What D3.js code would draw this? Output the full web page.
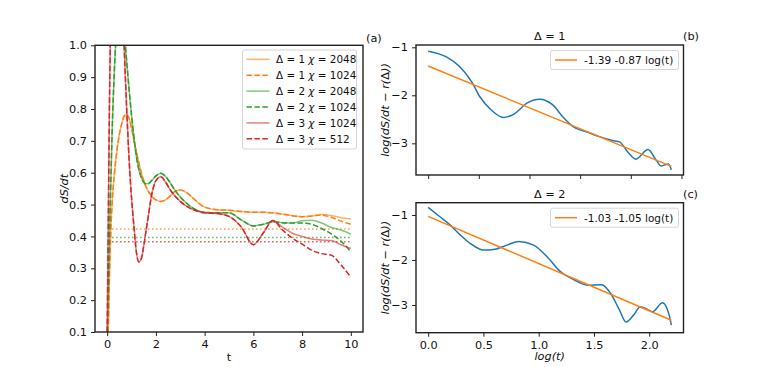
<!DOCTYPE html>
<meta charset="utf-8">
<title>dS/dt</title>
<style>
body { margin: 0; background: #fff; }
svg { font-family: "DejaVu Sans", sans-serif; }
.frame { fill: none; stroke: #222; stroke-width: 1.4px; }
.axis path { display: none; }
.axis line { stroke: #222; stroke-width: 1px; }
.axis text { font-size: 11.3px; fill: #111; font-family: "DejaVu Sans", sans-serif; }
.lab { font-size: 11.3px; fill: #111; }
.leg { font-size: 10.4px; fill: #111; }
.curve { fill: none; stroke-width: 1.5px; }
</style>
<body>
<script src="https://cdn.jsdelivr.net/npm/d3@7"></script>
<script>

var width = 760,
    height = 380;

// left panel: dS/dt vs t
var tGrid = [0, 0.05, 0.1, 0.15, 0.2, 0.3, 0.4, 0.5, 0.6, 0.7, 0.8, 0.9, 1.0, 1.1, 1.2, 1.3, 1.4, 1.5, 1.6, 1.7, 1.8, 1.9, 2.0,
             2.2, 2.4, 2.6, 2.8, 3.0, 3.25, 3.5, 3.75, 4.0, 4.5, 5.0, 5.5, 6.0, 6.4, 6.8, 7.2, 7.6, 8.0, 8.4, 8.8, 9.2, 9.6, 10.0];

var d1chi2048 = [0.0, 0.12, 0.3, 0.42, 0.5, 0.6, 0.67, 0.72, 0.755, 0.778, 0.783, 0.77, 0.74, 0.7, 0.665, 0.63, 0.6, 0.575, 0.555, 0.54, 0.53, 0.52, 0.515,
                 0.51, 0.515, 0.528, 0.542, 0.546, 0.538, 0.522, 0.505, 0.492, 0.484, 0.482, 0.478, 0.476, 0.476, 0.474, 0.47, 0.465, 0.462, 0.464, 0.469, 0.466, 0.459, 0.455];
var d1chi1024 = [0.0, 0.12, 0.3, 0.42, 0.5, 0.6, 0.67, 0.72, 0.755, 0.778, 0.783, 0.77, 0.74, 0.7, 0.665, 0.63, 0.6, 0.575, 0.555, 0.54, 0.53, 0.52, 0.515,
                 0.51, 0.515, 0.528, 0.542, 0.546, 0.538, 0.522, 0.505, 0.492, 0.484, 0.482, 0.478, 0.476, 0.476, 0.474, 0.47, 0.465, 0.462, 0.464, 0.467, 0.46, 0.448, 0.438];
var d2chi2048 = [0.05, 0.25, 0.42, 0.57, 0.72, 0.93, 1.06, 1.1, 1.1, 1.04, 0.95, 0.86, 0.78, 0.71, 0.65, 0.61, 0.585, 0.57, 0.565, 0.566, 0.573, 0.582, 0.59,
                 0.598, 0.588, 0.567, 0.543, 0.524, 0.505, 0.49, 0.48, 0.476, 0.474, 0.474, 0.452, 0.433, 0.438, 0.446, 0.443, 0.442, 0.449, 0.451, 0.442, 0.428, 0.42, 0.407];
var d2chi1024 = [0.05, 0.25, 0.42, 0.57, 0.72, 0.93, 1.06, 1.1, 1.1, 1.04, 0.95, 0.86, 0.78, 0.71, 0.65, 0.61, 0.585, 0.57, 0.565, 0.566, 0.573, 0.582, 0.59,
                 0.598, 0.588, 0.567, 0.543, 0.524, 0.505, 0.49, 0.48, 0.476, 0.474, 0.474, 0.452, 0.433, 0.438, 0.446, 0.443, 0.442, 0.442, 0.438, 0.425, 0.408, 0.385, 0.352];
var d3chi1024 = [0.1, 0.48, 0.86, 1.1, 1.25, 1.42, 1.48, 1.4, 1.2, 0.99, 0.8, 0.64, 0.52, 0.43, 0.35, 0.32, 0.33, 0.37, 0.42, 0.47, 0.52, 0.555, 0.575,
                 0.587, 0.57, 0.545, 0.525, 0.51, 0.495, 0.485, 0.478, 0.474, 0.472, 0.463, 0.43, 0.374, 0.41, 0.45, 0.429, 0.41, 0.4, 0.392, 0.389, 0.387, 0.374, 0.362];
var d3chi512 = [0.1, 0.48, 0.86, 1.1, 1.25, 1.42, 1.48, 1.4, 1.2, 0.99, 0.8, 0.64, 0.52, 0.43, 0.35, 0.32, 0.33, 0.37, 0.42, 0.47, 0.52, 0.555, 0.575,
                0.587, 0.57, 0.545, 0.525, 0.51, 0.495, 0.485, 0.478, 0.474, 0.472, 0.463, 0.43, 0.374, 0.41, 0.45, 0.42, 0.395, 0.376, 0.356, 0.346, 0.341, 0.31, 0.272];

// asymptotic rates r(Delta), drawn dotted
var rateValues = [0.423, 0.397, 0.383];
var rateSpan = [0.2, 10];

var leftYTicks = [0.1, 0.2, 0.3, 0.4, 0.5, 0.6, 0.7, 0.8, 0.9, 1.0];
var leftXTicks = [0, 2, 4, 6, 8, 10];

// right panels: log(dS/dt - r) vs log(t)
var logT1 = [0, 0.18, 0.31, 0.43, 0.51, 0.625, 0.74, 0.855, 0.97, 1.1, 1.23, 1.33, 1.43, 1.56, 1.69, 1.82, 1.89, 1.97, 2.05, 2.17, 2.25, 2.3, 2.37, 2.4];
var logR1 = [-1.08, -1.2, -1.4, -1.72, -2.03, -2.31, -2.46, -2.38, -2.17, -2.08, -2.2, -2.45, -2.65, -2.76, -2.86, -2.94, -2.97, -3.18, -3.33, -3.13, -3.35, -3.47, -3.43, -3.55];
var fitX1 = [0, 2.4],
    fitY1 = [-1.39, -3.48];

var logT2 = [0, 0.106, 0.197, 0.288, 0.379, 0.5, 0.606, 0.712, 0.82, 0.955, 1.076, 1.197, 1.32, 1.44, 1.57, 1.65, 1.73, 1.79, 1.86, 1.92, 1.985, 2.03, 2.12, 2.18, 2.2];
var logR2 = [-0.83, -1.04, -1.22, -1.44, -1.63, -1.78, -1.76, -1.67, -1.59, -1.67, -1.93, -2.26, -2.44, -2.56, -2.55, -2.74, -3.11, -3.38, -3.22, -3.04, -3.1, -3.15, -2.95, -3.22, -3.45];
var fitX2 = [0, 2.2],
    fitY2 = [-1.03, -3.34];

var rightYTicks = [-1, -2, -3];
var rightXTicks1 = [0, 0.5, 1.0, 1.5, 2.0, 2.5];
var rightXTicks2 = [0, 0.5, 1.0, 1.5, 2.0];

var orange = "#ff7f0e", green = "#2ca02c", red = "#d62728", blue = "#1f77b4";

var series = [
  { v: d1chi2048, c: orange, dash: null, op: 0.6, d: "1", chi: "2048" },
  { v: d1chi1024, c: orange, dash: "5.5,2.4", op: 1, d: "1", chi: "1024" },
  { v: d2chi2048, c: green, dash: null, op: 0.6, d: "2", chi: "2048" },
  { v: d2chi1024, c: green, dash: "5.5,2.4", op: 1, d: "2", chi: "1024" },
  { v: d3chi1024, c: red, dash: null, op: 0.6, d: "3", chi: "1024" },
  { v: d3chi512, c: red, dash: "5.5,2.4", op: 1, d: "3", chi: "512" }
];
var rateColors = [orange, green, red];

var svg = d3.select("body").append("svg")
    .attr("width", width)
    .attr("height", height);

svg.append("rect").attr("width", width).attr("height", height).attr("fill", "#fff");

// ---------- left panel ----------
var L = { x0: 95, x1: 363, y0: 45.3, y1: 332 };

var x = d3.scaleLinear().domain([-0.5, 10.5]).range([L.x0, L.x1]);
var y = d3.scaleLinear().domain([0.1, 1.0]).range([L.y1, L.y0]);

svg.append("clipPath").attr("id", "clipL")
  .append("rect").attr("x", L.x0).attr("y", L.y0).attr("width", L.x1 - L.x0).attr("height", L.y1 - L.y0);

var gl = svg.append("g").attr("clip-path", "url(#clipL)");

var line = d3.line()
    .x(function(d) { return x(d[0]); })
    .y(function(d) { return y(d[1]); })
    .curve(d3.curveMonotoneX);

rateValues.forEach(function(r, i) {
  gl.append("path")
      .attr("class", "curve")
      .attr("d", line(rateSpan.map(function(t) { return [t, r]; })))
      .attr("stroke", rateColors[i])
      .attr("stroke-opacity", 0.75)
      .attr("stroke-dasharray", "1.5,2.5");
});

series.forEach(function(s) {
  gl.append("path")
      .attr("class", "curve")
      .attr("d", line(tGrid.map(function(t, i) { return [t, s.v[i]]; })))
      .attr("stroke", s.c)
      .attr("stroke-opacity", s.op)
      .attr("stroke-dasharray", s.dash);
});

svg.append("g").attr("class", "axis")
    .attr("transform", "translate(0," + L.y1 + ")")
    .call(d3.axisBottom(x).tickValues(leftXTicks).tickSize(4).tickPadding(4).tickFormat(d3.format("d")));

svg.append("g").attr("class", "axis")
    .attr("transform", "translate(" + L.x0 + ",0)")
    .call(d3.axisLeft(y).tickValues(leftYTicks).tickSize(4).tickPadding(4).tickFormat(d3.format(".1f")));

svg.append("rect").attr("class", "frame")
    .attr("x", L.x0).attr("y", L.y0).attr("width", L.x1 - L.x0).attr("height", L.y1 - L.y0);

svg.append("text").attr("class", "lab")
    .attr("x", (L.x0 + L.x1) / 2).attr("y", 361).attr("text-anchor", "middle").text("t");

svg.append("text").attr("class", "lab")
    .attr("transform", "translate(68," + (L.y0 + L.y1) / 2 + ")rotate(-90)")
    .attr("text-anchor", "middle").attr("font-style", "italic").text("dS/dt");

svg.append("text").attr("class", "lab").attr("x", 366).attr("y", 42).text("(a)");

// legend
var leg = svg.append("g");
leg.append("rect")
    .attr("x", 242.5).attr("y", 50).attr("width", 114).attr("height", 99)
    .attr("rx", 2).attr("fill", "#fff").attr("fill-opacity", 0.8)
    .attr("stroke", "#ccc").attr("stroke-width", 0.8);

series.forEach(function(s, i) {
  var yy = 59.3 + i * 15.9;
  leg.append("line")
      .attr("x1", 246.5).attr("x2", 269.5).attr("y1", yy).attr("y2", yy)
      .attr("stroke", s.c).attr("stroke-width", 1.5)
      .attr("stroke-opacity", s.op).attr("stroke-dasharray", s.dash);
  var t = leg.append("text").attr("class", "leg").attr("x", 276).attr("y", yy + 3.7);
  t.append("tspan").text("\u0394 = " + s.d + " ");
  t.append("tspan").attr("font-style", "italic").text("\u03c7");
  t.append("tspan").text(" = " + s.chi);
});

// ---------- right panels ----------
function rightPanel(p) {
  var xs = d3.scaleLinear().domain(p.xd).range([416, 683.5]);
  var ys = d3.scaleLinear().domain(p.yd).range([p.y1, p.y0]);
  var id = "clip" + p.delta;

  svg.append("clipPath").attr("id", id)
    .append("rect").attr("x", 416).attr("y", p.y0).attr("width", 267.5).attr("height", p.y1 - p.y0);

  var g = svg.append("g").attr("clip-path", "url(#" + id + ")");
  var ln = d3.line()
      .x(function(d) { return xs(d[0]); })
      .y(function(d) { return ys(d[1]); });

  g.append("path").attr("class", "curve")
      .attr("d", ln.curve(d3.curveMonotoneX)(p.lx.map(function(v, i) { return [v, p.ly[i]]; })))
      .attr("stroke", blue);
  g.append("path").attr("class", "curve")
      .attr("d", ln.curve(d3.curveLinear)(p.fx.map(function(v, i) { return [v, p.fy[i]]; })))
      .attr("stroke", orange);

  var ax = d3.axisBottom(xs).tickValues(p.xt).tickSize(4).tickPadding(4);
  ax.tickFormat(p.labels ? d3.format(".1f") : "");
  svg.append("g").attr("class", "axis")
      .attr("transform", "translate(0," + p.y1 + ")")
      .call(ax);
  svg.append("g").attr("class", "axis")
      .attr("transform", "translate(416,0)")
      .call(d3.axisLeft(ys).tickValues(rightYTicks).tickSize(4).tickPadding(4).tickFormat(d3.format("d")));

  svg.append("rect").attr("class", "frame")
      .attr("x", 416).attr("y", p.y0).attr("width", 267.5).attr("height", p.y1 - p.y0);

  svg.append("text").attr("class", "lab")
      .attr("x", 549.7).attr("y", p.y0 - 5).attr("text-anchor", "middle")
      .text("\u0394 = " + p.delta);
  svg.append("text").attr("class", "lab").attr("x", 683).attr("y", p.y0 - 5).text(p.tag);

  var yl = svg.append("text").attr("class", "lab")
      .attr("transform", "translate(389," + (p.y0 + p.y1) / 2 + ")rotate(-90)")
      .attr("text-anchor", "middle").attr("font-style", "italic");
  yl.append("tspan").text("log(dS/dt \u2212 r(");
  yl.append("tspan").attr("font-style", "normal").text("\u0394");
  yl.append("tspan").text("))");

  var lg = svg.append("g");
  lg.append("rect")
      .attr("x", 550.5).attr("y", p.y0 + 5.5).attr("width", 128).attr("height", 19)
      .attr("rx", 2).attr("fill", "#fff").attr("fill-opacity", 0.8)
      .attr("stroke", "#ccc").attr("stroke-width", 0.8);
  lg.append("line")
      .attr("x1", 555).attr("x2", 577).attr("y1", p.y0 + 15).attr("y2", p.y0 + 15)
      .attr("stroke", orange).attr("stroke-width", 1.5);
  lg.append("text").attr("class", "leg").style("font-size", "10.5px")
      .attr("x", 584).attr("y", p.y0 + 18.8).text(p.fitLabel);
}

rightPanel({ tag: "(b)", delta: "1", y0: 45, y1: 175, xd: [-0.12, 2.52], yd: [-3.66, -0.952],
             lx: logT1, ly: logR1, fx: fitX1, fy: fitY1, xt: rightXTicks1, labels: false,
             fitLabel: "-1.39 -0.87 log(t)" });
rightPanel({ tag: "(c)", delta: "2", y0: 202.7, y1: 332.7, xd: [-0.11, 2.31], yd: [-3.616, -0.727],
             lx: logT2, ly: logR2, fx: fitX2, fy: fitY2, xt: rightXTicks2, labels: true,
             fitLabel: "-1.03 -1.05 log(t)" });

svg.append("text").attr("class", "lab")
    .attr("x", 549.7).attr("y", 360).attr("text-anchor", "middle").attr("font-style", "italic")
    .text("log(t)");

</script>
</body>
